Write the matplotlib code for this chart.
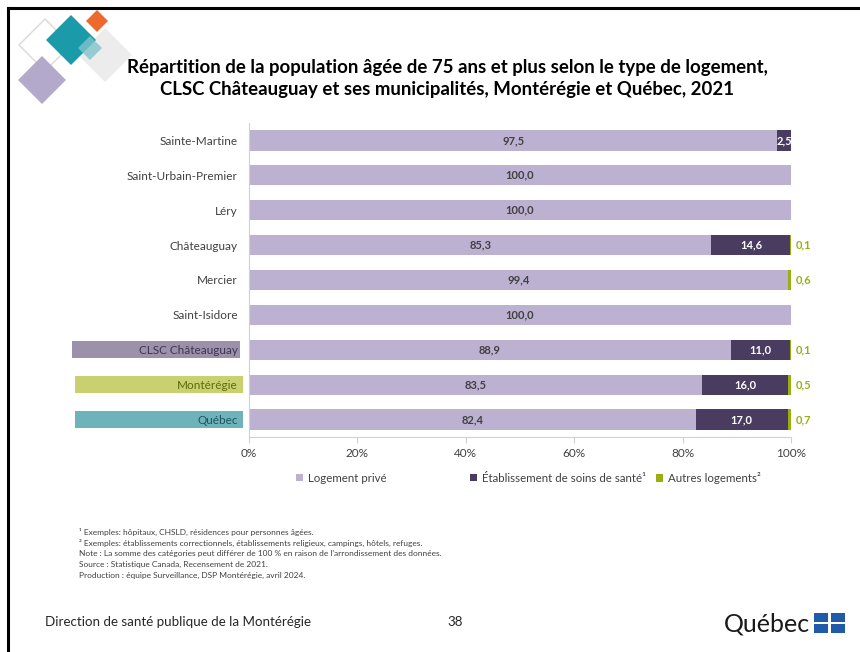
import matplotlib.pyplot as plt
from matplotlib.patches import Rectangle, Polygon
from matplotlib.lines import Line2D

plt.rcParams['font.family'] = ['Lato', 'DejaVu Sans']

regions = ["Sainte-Martine", "Saint-Urbain-Premier", "Léry", "Châteauguay", "Mercier",
           "Saint-Isidore", "CLSC Châteauguay", "Montérégie", "Québec"]
prive = [97.5, 100.0, 100.0, 85.3, 99.4, 100.0, 88.9, 83.5, 82.4]
soins = [2.5, 0.0, 0.0, 14.6, 0.0, 0.0, 11.0, 16.0, 17.0]
autres = [0.0, 0.0, 0.0, 0.1, 0.6, 0.0, 0.1, 0.5, 0.7]
series_names = ["Logement privé", "Établissement de soins de santé¹", "Autres logements²"]

c_prive = "#bcb1d1"
c_soins = "#4a3c61"
c_autres = "#9aae14"
txt = "#404040"

W, H = 860, 652
fig = plt.figure(figsize=(W / 100, H / 100), dpi=100)

def fx(px):
    return px / W

def fy(py):
    return 1 - py / H

# slide frame (top and left)
fig.add_artist(Line2D([fx(8), 1], [fy(8), fy(8)], color="black", lw=2.2))
fig.add_artist(Line2D([fx(8), fx(8)], [fy(8), 0], color="black", lw=2.2))

# decorative diamonds
def diamond(cx, cy, r, **kw):
    pts = [(fx(cx), fy(cy - r)), (fx(cx + r), fy(cy)), (fx(cx), fy(cy + r)), (fx(cx - r), fy(cy))]
    fig.add_artist(Polygon(pts, closed=True, transform=fig.transFigure, **kw))

diamond(45, 45, 26, facecolor="none", edgecolor="#d9d9d9", lw=1)
diamond(42, 80, 24, facecolor="#b3aacb", edgecolor="none")
diamond(105, 55, 27, facecolor="#ececec", edgecolor="none")
diamond(71, 40, 25, facecolor="#1b9aaa", edgecolor="none")
diamond(97, 21, 11, facecolor="#ec6a2e", edgecolor="none")
diamond(90, 48, 12, facecolor="#7fc4cc", edgecolor="none", alpha=0.8)

fig.text(fx(447), fy(67), "Répartition de la population âgée de 75 ans et plus selon le type de logement,",
         ha="center", va="center", fontsize=13.4, fontweight="bold", color="black")
fig.text(fx(447), fy(89), "CLSC Châteauguay et ses municipalités, Montérégie et Québec, 2021",
         ha="center", va="center", fontsize=13.4, fontweight="bold", color="black")

ax = fig.add_axes([fx(249), fy(437), fx(791) - fx(249), (437 - 123) / H])
y = list(range(len(regions)))
left2 = [p for p in prive]
left3 = [p + s for p, s in zip(prive, soins)]
bh = 0.58
b1 = ax.barh(y, prive, height=bh, color=c_prive, label=series_names[0])
b2 = ax.barh(y, soins, left=left2, height=bh, color=c_soins, label=series_names[1])
b3 = ax.barh(y, autres, left=left3, height=bh, color=c_autres, label=series_names[2])

for i in y:
    ax.text(prive[i] / 2, i, f"{prive[i]:.1f}".replace(".", ","), ha="center", va="center",
            fontsize=8, fontweight="bold", color=txt)
    if soins[i] > 0:
        ax.text(left2[i] + soins[i] / 2, i, f"{soins[i]:.1f}".replace(".", ","), ha="center",
                va="center", fontsize=8, fontweight="bold", color="white")
    if autres[i] > 0:
        ax.text(100.8, i, f"{autres[i]:.1f}".replace(".", ","), ha="left", va="center",
                fontsize=8, fontweight="bold", color=c_autres)

ax.set_xlim(0, 100)
ax.set_ylim(len(regions) - 0.5, -0.5)
ax.set_xticks([0, 20, 40, 60, 80, 100])
ax.set_xticklabels([f"{v}%" for v in [0, 20, 40, 60, 80, 100]], fontsize=8.5, color=txt)
ax.set_yticks(y)
ax.set_yticklabels(regions, fontsize=8.5, color=txt)
ax.tick_params(axis="y", length=0, pad=8)
ax.tick_params(axis="x", length=4, color="#d0d0d0", pad=4)
for s in ["top", "right"]:
    ax.spines[s].set_visible(False)
for s in ["left", "bottom"]:
    ax.spines[s].set_color("#d0d0d0")
    ax.spines[s].set_linewidth(0.8)

# coloured boxes behind the three reference labels
box_colors = {"CLSC Châteauguay": ("#9c91aa", "#3e3550"),
              "Montérégie": ("#c9d06f", "#5d6a0c"),
              "Québec": ("#6db3b9", "#1e5560")}
box_x = {"CLSC Châteauguay": (72, 240), "Montérégie": (75, 243), "Québec": (75, 243)}
for lab in ax.get_yticklabels():
    name = lab.get_text()
    if name in box_colors:
        fc, tc = box_colors[name]
        i = regions.index(name)
        yc = ax.transData.transform((0, i))[1]
        x0, x1 = box_x[name]
        fig.add_artist(Rectangle((fx(x0), (yc - 8.5) / H), (x1 - x0) / W, 17 / H,
                                 transform=fig.transFigure, facecolor=fc, edgecolor="none", zorder=0))
        lab.set_color(tc)

# legend entries placed like the original (uneven spacing)
for handle, name, xpx in zip([b1, b2, b3], series_names, [296, 470, 656]):
    leg = fig.legend([handle], [name], loc="center left", bbox_to_anchor=(fx(xpx), fy(478)),
                     frameon=False, fontsize=8.3, handlelength=0.6, handleheight=0.6,
                     handletextpad=0.4, borderaxespad=0, borderpad=0, labelcolor=txt)

notes = ["¹ Exemples: hôpitaux, CHSLD, résidences pour personnes âgées.",
         "² Exemples: établissements correctionnels, établissements religieux, campings, hôtels, refuges.",
         "Note : La somme des catégories peut différer de 100 % en raison de l'arrondissement des données.",
         "Source : Statistique Canada, Recensement de 2021.",
         "Production : équipe Surveillance, DSP Montérégie, avril 2024."]
for k, n in enumerate(notes):
    fig.text(fx(79), fy(532 + k * 10.8), n, ha="left", va="center", fontsize=6.0, color="#404040")

fig.text(fx(45), fy(622), "Direction de santé publique de la Montérégie", ha="left", va="center",
         fontsize=9.6, color="#262626")
fig.text(fx(455), fy(622), "38", ha="center", va="center", fontsize=9.6, color="#262626")
fig.text(fx(810), fy(624), "Québec", ha="right", va="center", fontsize=18, color="#1a1a1a")
for dx in (0, 17):
    for dy in (0, 11):
        fig.add_artist(Rectangle((fx(814 + dx), fy(622 + dy)), 14 / W, 9 / H,
                                 transform=fig.transFigure, facecolor="#1f5ba8", edgecolor="none"))

fig.savefig("out.png", dpi=100)
